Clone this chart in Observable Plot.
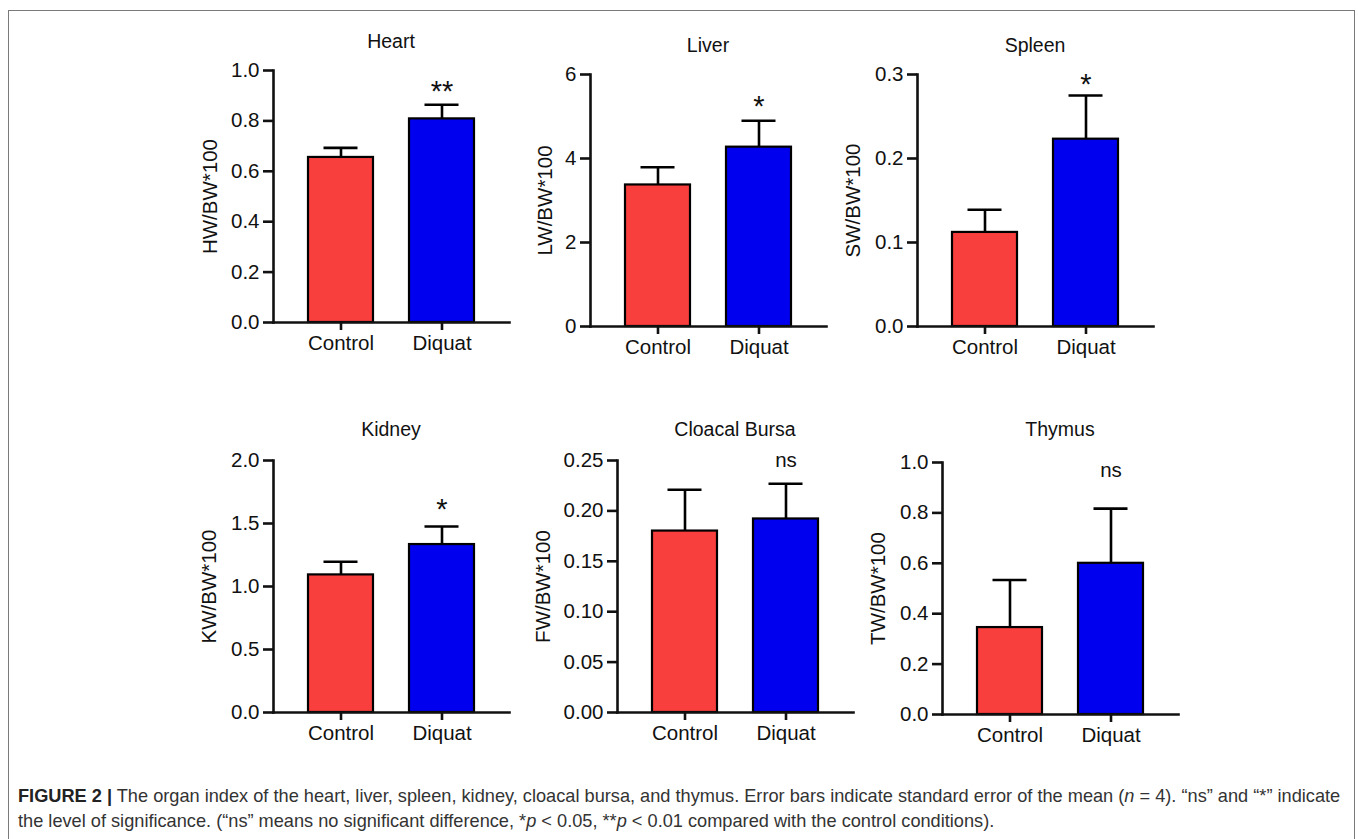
<!DOCTYPE html>
<html>
<head>
<meta charset="utf-8">
<script src="https://cdn.jsdelivr.net/npm/d3@7"></script>
<script src="https://cdn.jsdelivr.net/npm/@observablehq/plot@0.6"></script>
<style>
  html, body { margin: 0; padding: 0; background: #fff; }
  #root { position: relative; width: 1358px; height: 839px; overflow: hidden; font-family: "Liberation Sans", Arial, sans-serif; }
  #box { position: absolute; left: 8px; top: 10px; width: 1347px; height: 860px; border: 1px solid #7a7a7a; box-sizing: border-box; }
  .panel { position: absolute; }
  .title { position: absolute; width: 300px; text-align: center; font-size: 19.5px; color: #111; line-height: 1; }
  #caption { position: absolute; left: 18px; top: 784px; font-size: 18.2px; color: #333; line-height: 25px; white-space: nowrap; }
  #caption b { color: #222; }
</style>
</head>
<body>
<div id="root">
  <div id="box"></div>
  <div id="caption"><b>FIGURE 2 |</b> The organ index of the heart, liver, spleen, kidney, cloacal bursa, and thymus. Error bars indicate standard error of the mean (<i>n</i> = 4). “ns” and “*” indicate<br>the level of significance. (“ns” means no significant difference, *<i>p</i> &lt; 0.05, **<i>p</i> &lt; 0.01 compared with the control conditions).</div>
</div>
<script>
// ---- data ----
const groups = ["Control", "Diquat"];
const groupColors = ["#f93e3e", "#0000ee"];

const heartMean = [0.655, 0.808];
const heartSem = [0.038, 0.056];
const liverMean = [3.37, 4.27];
const liverSem = [0.42, 0.63];
const spleenMean = [0.112, 0.223];
const spleenSem = [0.027, 0.052];
const kidneyMean = [1.092, 1.333];
const kidneySem = [0.105, 0.143];
const bursaMean = [0.180, 0.192];
const bursaSem = [0.041, 0.035];
const thymusMean = [0.345, 0.600];
const thymusSem = [0.189, 0.217];

const titles = ["Heart", "Liver", "Spleen", "Kidney", "Cloacal Bursa", "Thymus"];
const yLabels = ["HW/BW*100", "LW/BW*100", "SW/BW*100", "KW/BW*100", "FW/BW*100", "TW/BW*100"];
const yDomains = [[0, 1], [0, 6], [0, 0.3], [0, 2], [0, 0.25], [0, 1]];
const yTicks = [
  [0, 0.2, 0.4, 0.6, 0.8, 1.0],
  [0, 2, 4, 6],
  [0, 0.1, 0.2, 0.3],
  [0, 0.5, 1.0, 1.5, 2.0],
  [0, 0.05, 0.10, 0.15, 0.20, 0.25],
  [0, 0.2, 0.4, 0.6, 0.8, 1.0]
];
const tickFormats = [".1f", ".0f", ".1f", ".1f", ".2f", ".1f"];
const sigLabels = ["**", "*", "*", "*", "ns", "ns"];
const sigY = [0.948, 5.43, 0.297, 1.669, 0.251, 0.973];

const means = [heartMean, liverMean, spleenMean, kidneyMean, bursaMean, thymusMean];
const sems = [heartSem, liverSem, spleenSem, kidneySem, bursaSem, thymusSem];

// ---- layout ----
const ML = 110, MT = 20, MB = 50, MR = 14, PW = 236, PH = 252;
const axisX = [273, 590, 917, 273, 617, 942];
const frameTop = [70, 74, 74, 460, 460, 462];
const labelOffsets = [71, 53, 72, 72, 82, 72];
const titleY = [32, 36, 36, 420, 420, 420];

const root = document.getElementById("root");

for (let k = 0; k < 6; k++) {
  const data = groups.map((g, i) => ({
    group: g,
    mean: means[k][i],
    top: means[k][i] + sems[k][i]
  }));
  const sig = [{group: "Diquat", y: sigY[k], label: sigLabels[k]}];
  const isStar = sigLabels[k] !== "ns";
  const chart = Plot.plot({
    width: ML + PW + MR,
    height: MT + PH + MB,
    marginLeft: ML, marginRight: MR, marginTop: MT, marginBottom: MB,
    style: {fontFamily: "'Liberation Sans', Arial, sans-serif", fontSize: "20.5px", color: "#111", background: "transparent", overflow: "visible"},
    x: {domain: groups, paddingInner: 0.36, paddingOuter: 0.34, label: null},
    y: {domain: yDomains[k]},
    color: {domain: groups, range: groupColors},
    marks: [
      Plot.barY(data, {x: "group", y: "mean", fill: "group", stroke: "#000", strokeWidth: 2.2}),
      Plot.ruleX(data, {x: "group", y1: "mean", y2: "top", stroke: "#000", strokeWidth: 2.6}),
      Plot.tickY(data, {x: "group", y: "top", stroke: "#000", strokeWidth: 2.6, inset: 15.5}),
      Plot.text(sig, {x: "group", y: "y", text: "label", fontSize: isStar ? 29 : 20.5, dy: isStar ? 8 : 1, fill: "#111"}),
      Plot.axisY({ticks: yTicks[k], tickFormat: d3.format(tickFormats[k]), tickSize: 10, tickPadding: 4, strokeWidth: 2.6, label: yLabels[k], labelAnchor: "center", labelOffset: labelOffsets[k], labelArrow: "none", fontSize: 20.5}),
      Plot.axisX({tickSize: 8, tickPadding: 5, strokeWidth: 2.6, label: null, fontSize: 20.5}),
      Plot.frame({anchor: "left", strokeWidth: 2.6}),
      Plot.frame({anchor: "bottom", strokeWidth: 2.6})
    ]
  });
  chart.classList.add("panel");
  chart.style.left = (axisX[k] - ML) + "px";
  chart.style.top = (frameTop[k] - MT) + "px";
  root.appendChild(chart);

  const t = document.createElement("div");
  t.className = "title";
  t.textContent = titles[k];
  t.style.left = (axisX[k] + PW / 2 - 150) + "px";
  t.style.top = titleY[k] + "px";
  root.appendChild(t);
}
</script>
</body>
</html>
